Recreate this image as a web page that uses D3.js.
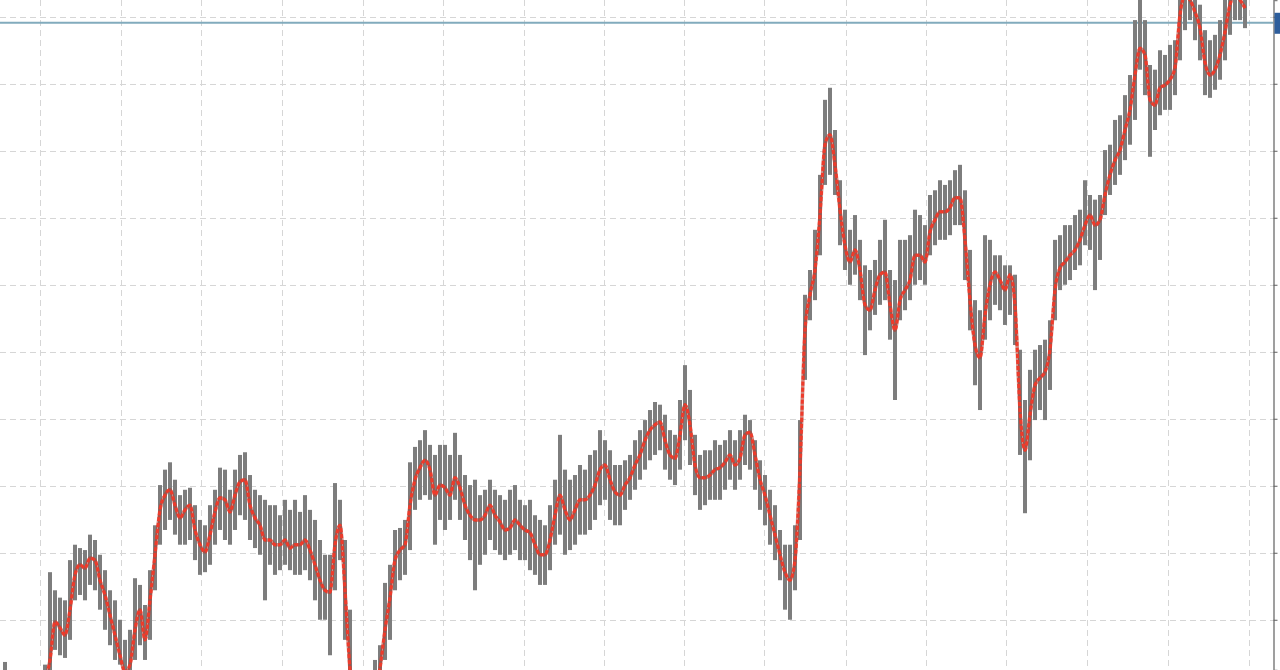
<!DOCTYPE html>
<html>
<head>
<meta charset="utf-8">
<script src="https://cdnjs.cloudflare.com/ajax/libs/d3/7.8.5/d3.min.js"></script>
<style>
  html, body { margin: 0; padding: 0; background: #ffffff; overflow: hidden; }
  #chart { width: 1280px; height: 670px; }
</style>
</head>
<body>
<div id="chart"></div>
<script>
// Bar highs, one value per bar
var highs = [
  93.7, 91.0, 90.3, 89.5, 90.3, 91.0, 91.0, 91.8, 93.3, 107.1,
  104.4, 103.3, 102.9, 108.9, 111.2, 110.7, 110.4, 112.7, 111.9, 109.7,
  107.4, 104.4, 102.9, 100.0, 97.0, 98.5, 106.2, 105.2, 102.2, 107.4,
  114.1, 120.1, 122.4, 123.5, 120.9, 118.6, 119.4, 119.7, 117.1, 114.9,
  114.1, 117.1, 119.4, 122.7, 122.4, 119.4, 122.4, 124.6, 125.0, 121.6,
  119.4, 118.6, 117.9, 117.1, 117.1, 115.6, 117.9, 116.4, 117.9, 116.1,
  118.6, 116.4, 114.9, 111.9, 109.7, 109.7, 120.4, 117.9, 111.9, 101.5,
  89.5, 89.5, 89.5, 90.3, 94.0, 96.2, 105.5, 108.2, 113.4, 113.7,
  114.9, 123.5, 125.8, 126.8, 128.3, 126.1, 124.6, 126.1, 126.1, 124.6,
  127.9, 124.6, 121.6, 120.1, 120.9, 118.6, 119.4, 120.9, 119.4, 118.6,
  117.9, 119.4, 120.1, 117.9, 117.1, 117.9, 115.6, 114.9, 114.1, 117.1,
  120.9, 127.6, 122.4, 120.9, 121.6, 123.1, 122.4, 124.6, 125.3, 128.3,
  126.8, 125.3, 123.1, 123.1, 123.8, 124.6, 126.8, 128.3, 129.8, 131.3,
  132.5, 132.1, 130.6, 128.3, 127.6, 132.8, 138.0, 134.3, 127.6, 124.6,
  125.3, 125.3, 126.8, 126.1, 126.8, 128.3, 126.8, 128.3, 130.6, 129.8,
  126.8, 123.8, 121.6, 119.4, 117.1, 113.4, 111.2, 111.2, 114.1, 129.8,
  148.5, 152.2, 158.2, 166.4, 177.6, 179.4, 173.1, 165.6, 161.2, 158.2,
  160.4, 156.7, 152.9, 152.2, 153.7, 156.7, 159.7, 152.2, 150.7, 156.7,
  156.7, 157.4, 161.2, 160.4, 158.9, 163.4, 164.1, 165.6, 164.9, 165.6,
  167.1, 167.9, 164.1, 155.2, 147.7, 146.2, 157.4, 156.7, 154.4, 154.4,
  152.9, 152.9, 151.5, 140.3, 132.8, 137.3, 140.3, 141.0, 141.8, 144.7,
  156.7, 157.4, 158.9, 158.9, 160.4, 161.2, 165.6, 163.4, 162.7, 163.4,
  170.1, 170.9, 174.6, 175.3, 178.3, 181.3, 189.5, 193.2, 189.5, 182.8,
  182.1, 185.0, 184.3, 185.8, 186.5, 192.5, 195.5, 194.7, 192.5, 191.8,
  188.0, 186.5, 187.3, 189.5, 192.5, 194.0, 194.7, 194.0, 192.5
];

// Bar lows
var lows = [
  88.0, 86.5, 85.8, 85.0, 85.8, 85.8, 86.5, 87.3, 88.0, 92.5,
  95.5, 94.7, 94.3, 97.0, 102.9, 103.7, 102.9, 105.2, 104.4, 101.5,
  98.5, 96.2, 94.0, 93.3, 91.0, 92.5, 94.0, 96.2, 94.0, 97.0,
  104.4, 111.2, 113.4, 114.9, 112.7, 111.2, 111.2, 111.9, 108.9, 106.7,
  107.1, 108.2, 111.2, 113.4, 111.9, 111.2, 113.4, 115.6, 114.9, 111.9,
  110.7, 109.7, 102.9, 108.2, 106.7, 107.4, 108.2, 107.4, 106.7, 106.7,
  107.4, 105.9, 102.9, 100.0, 100.0, 94.7, 104.4, 108.9, 97.0, 88.0,
  83.5, 83.5, 83.5, 84.3, 86.5, 89.5, 94.0, 97.0, 104.4, 105.9,
  106.7, 110.4, 116.4, 117.9, 118.6, 117.9, 111.2, 114.9, 113.4, 114.9,
  117.9, 114.9, 111.9, 108.9, 104.4, 108.2, 109.7, 111.9, 110.4, 109.7,
  108.9, 109.7, 110.4, 108.9, 108.9, 107.4, 106.7, 105.2, 105.2, 107.4,
  111.2, 112.7, 109.7, 110.4, 111.2, 112.7, 112.7, 113.4, 114.9, 117.1,
  117.9, 114.9, 114.1, 114.1, 116.4, 117.9, 119.4, 120.9, 122.4, 123.8,
  124.6, 125.3, 122.4, 120.9, 120.1, 122.4, 126.8, 123.1, 118.6, 116.4,
  117.1, 117.9, 117.9, 117.9, 119.4, 120.9, 119.4, 120.9, 123.1, 122.4,
  119.4, 116.4, 114.1, 111.2, 108.9, 105.9, 101.5, 100.0, 104.4, 111.9,
  135.8, 144.7, 147.7, 154.4, 164.9, 166.4, 163.4, 155.9, 152.2, 150.0,
  151.5, 147.7, 139.5, 143.2, 145.5, 147.0, 147.7, 141.8, 132.8, 144.7,
  146.2, 147.7, 150.0, 150.7, 150.0, 154.4, 155.9, 156.7, 156.7, 157.4,
  158.9, 158.9, 150.7, 143.2, 135.0, 131.3, 141.8, 144.7, 147.0, 146.2,
  144.0, 145.5, 141.0, 124.6, 115.9, 123.8, 129.8, 131.3, 129.8, 134.3,
  144.7, 149.2, 150.0, 150.7, 152.2, 152.9, 155.9, 155.2, 149.2, 153.7,
  160.4, 163.4, 164.9, 166.4, 168.6, 170.9, 174.6, 182.1, 178.3, 169.1,
  173.1, 175.3, 176.1, 176.1, 178.3, 183.5, 188.0, 189.5, 186.5, 183.5,
  178.3, 177.9, 179.1, 180.6, 183.5, 187.3, 189.5, 189.5, 188.3
];

// Moving average drawn over the bars
var movingAvg = [
  89.5, 88.8, 88.0, 88.0, 88.0, 88.3, 88.8, 89.5, 91.0, 94.0,
  99.7, 98.8, 97.7, 101.5, 106.7, 108.2, 107.7, 109.2, 108.9, 105.9,
  103.7, 100.7, 97.7, 94.7, 92.2, 93.3, 98.5, 101.5, 97.0, 102.9,
  109.7, 116.4, 118.6, 119.4, 117.1, 115.2, 116.4, 117.1, 113.4, 111.2,
  110.1, 112.7, 116.1, 118.2, 117.9, 116.1, 118.6, 120.6, 120.9, 117.1,
  115.2, 114.1, 111.9, 111.9, 111.2, 111.2, 111.9, 110.7, 111.2, 111.2,
  111.9, 110.4, 108.2, 105.9, 104.4, 104.1, 111.2, 114.1, 104.4, 92.5,
  86.5, 86.5, 86.5, 87.3, 89.5, 92.8, 98.5, 103.3, 108.9, 110.4,
  111.2, 117.1, 120.9, 122.7, 123.8, 122.4, 118.6, 120.1, 119.7, 118.6,
  121.2, 119.7, 117.1, 115.6, 114.9, 114.9, 115.6, 117.1, 115.6, 114.6,
  113.4, 113.7, 114.9, 114.1, 113.4, 113.0, 111.2, 109.7, 109.7, 111.9,
  115.6, 118.6, 116.4, 114.9, 116.4, 117.9, 117.9, 118.6, 120.1, 122.4,
  123.1, 120.9, 119.1, 118.6, 120.1, 121.2, 123.1, 124.6, 126.8, 128.3,
  129.1, 129.5, 126.8, 124.6, 124.1, 127.6, 132.1, 129.1, 123.1, 121.2,
  121.2, 121.6, 122.4, 122.7, 123.5, 124.6, 123.1, 124.1, 127.6, 128.0,
  124.6, 120.9, 118.6, 115.6, 112.7, 109.7, 107.1, 105.9, 108.9, 122.4,
  143.2, 148.5, 152.2, 160.4, 170.9, 172.4, 167.9, 161.2, 155.9, 153.4,
  155.2, 152.2, 147.0, 146.2, 149.2, 151.5, 151.9, 147.0, 143.2, 147.7,
  149.2, 150.7, 154.4, 154.4, 153.4, 157.9, 159.7, 160.9, 160.9, 161.5,
  163.0, 163.0, 156.7, 147.7, 141.0, 139.1, 145.5, 150.0, 151.9, 150.7,
  149.2, 151.5, 147.0, 131.3, 125.3, 130.6, 135.0, 136.1, 137.0, 140.3,
  149.2, 152.5, 153.4, 154.4, 155.2, 156.7, 158.9, 160.4, 158.9, 159.7,
  163.4, 166.4, 168.6, 170.1, 173.1, 176.1, 181.3, 185.3, 184.3, 177.6,
  176.8, 179.4, 179.8, 180.6, 182.4, 190.3, 193.2, 192.5, 190.7, 188.3,
  183.2, 181.3, 182.1, 184.3, 187.7, 191.8, 193.2, 192.5, 191.3
];

// Grid positions (bar index for verticals, price for horizontals)
var xGrid = [7, 23.2, 39.2, 55.4, 71.6, 87.6, 103.8, 119.8, 135.8, 151.8, 168.1, 184.2, 200.2, 216.4, 232.6, 248.8];
var yGrid = [100, 110, 120, 130, 140, 150, 160, 170, 180, 190];

// Current price level (blue line)
var lastPrice = 189.1;

var svgWidth = 1280;
var svgHeight = 670;
var axisX = 1273.5;

var svg = d3.select("#chart")
    .append("svg")
    .attr("width", svgWidth)
    .attr("height", svgHeight);

// Create scale functions
var xScale = d3.scaleLinear()
    .domain([0, highs.length - 1])
    .range([5, 1245]);

var yScale = d3.scaleLinear()
    .domain([92.5, 192.5])
    .range([svgHeight, 0]);

// Dashed grid
var grid = svg.append("g").attr("class", "grid");

grid.selectAll(".hgrid")
    .data(yGrid)
    .enter()
    .append("line")
    .attr("x1", 0)
    .attr("x2", axisX)
    .attr("y1", d => Math.round(yScale(d)) + 0.5)
    .attr("y2", d => Math.round(yScale(d)) + 0.5)
    .attr("stroke", "#d6d6d6")
    .attr("stroke-dasharray", "6,4");

grid.selectAll(".vgrid")
    .data(xGrid)
    .enter()
    .append("line")
    .attr("x1", d => Math.round(xScale(d)) + 0.5)
    .attr("x2", d => Math.round(xScale(d)) + 0.5)
    .attr("y1", 0)
    .attr("y2", svgHeight)
    .attr("stroke", "#d6d6d6")
    .attr("stroke-dasharray", "6,4");

// Current price line
svg.append("line")
    .attr("x1", 0)
    .attr("x2", axisX)
    .attr("y1", yScale(lastPrice))
    .attr("y2", yScale(lastPrice))
    .attr("stroke", "#82abbd")
    .attr("stroke-width", 2);

// High-low bars
svg.append("g")
    .selectAll("line")
    .data(highs)
    .enter()
    .append("line")
    .attr("x1", (d, i) => xScale(i))
    .attr("x2", (d, i) => xScale(i))
    .attr("y1", d => yScale(d))
    .attr("y2", (d, i) => yScale(lows[i]))
    .attr("stroke", "#7d7d7d")
    .attr("stroke-width", 4);

// Moving average line
var maLine = d3.line()
    .x((d, i) => xScale(i))
    .y(d => yScale(d))
    .curve(d3.curveMonotoneX);

svg.append("path")
    .datum(movingAvg)
    .attr("d", maLine)
    .attr("fill", "none")
    .attr("stroke", "#b8382c")
    .attr("stroke-opacity", 0.6)
    .attr("stroke-width", 3.5);

svg.append("path")
    .datum(movingAvg)
    .attr("d", maLine)
    .attr("fill", "none")
    .attr("stroke", "#ee3b2b")
    .attr("stroke-width", 3)
    .attr("stroke-dasharray", "4,2");

// Right price axis, labels run past the window edge
var yAxis = d3.axisRight(yScale)
    .tickValues(yGrid)
    .tickSize(4)
    .tickFormat(d3.format(".1f"));

var axisG = svg.append("g")
    .attr("transform", `translate(${axisX}, 0)`)
    .call(yAxis);

axisG.select(".domain")
    .attr("stroke", "#808080")
    .attr("stroke-width", 1.5);

axisG.selectAll(".tick line").attr("stroke", "#606060");
axisG.selectAll(".tick text")
    .attr("fill", "#333")
    .style("font-family", "Liberation Sans, Arial, sans-serif")
    .style("font-size", "11px");

// Price label on the axis
svg.append("rect")
    .attr("x", axisX + 1)
    .attr("y", yScale(lastPrice) - 10)
    .attr("width", 60)
    .attr("height", 21)
    .attr("fill", "#2e5e9c");
</script>
</body>
</html>
